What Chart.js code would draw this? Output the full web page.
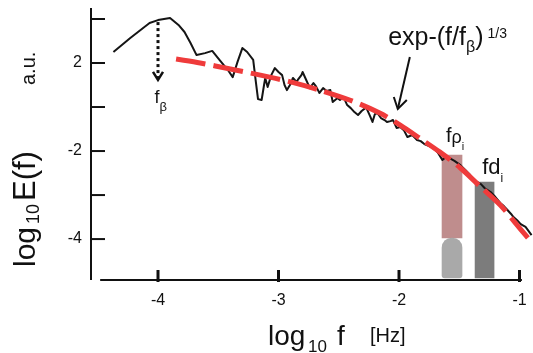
<!DOCTYPE html>
<html>
<head>
<meta charset="utf-8">
<script src="https://cdn.jsdelivr.net/npm/chart.js@4"></script>
<style>
  body { margin: 0; background: #fff; }
  canvas { display: block; }
</style>
</head>
<body>
<canvas id="spectrum" width="533" height="353"></canvas>
<script>
// measured power spectrum (log10 f, log10 E)
const specLogF = [-4.37, -4.23, -4.07, -4.00, -3.90, -3.83, -3.78, -3.73, -3.68, -3.61,
  -3.55, -3.49, -3.42, -3.38, -3.34, -3.30, -3.26, -3.21, -3.19, -3.17,
  -3.14, -3.12, -3.11, -3.09, -3.06, -3.03, -3.00, -2.97, -2.95, -2.93,
  -2.90, -2.88, -2.85, -2.84, -2.81, -2.80, -2.77, -2.74, -2.71, -2.69,
  -2.66, -2.63, -2.60, -2.57, -2.55, -2.51, -2.49, -2.46, -2.43, -2.40,
  -2.37, -2.34, -2.31, -2.28, -2.27, -2.24, -2.22, -2.20, -2.18, -2.15,
  -2.12, -2.10, -2.07, -2.05, -2.02, -1.99, -1.96, -1.93, -1.89, -1.85,
  -1.82, -1.79, -1.77, -1.73, -1.70, -1.68, -1.64, -1.62, -1.58, -1.54,
  -1.49, -1.45, -1.41, -1.38, -1.35, -1.32, -1.29, -1.24, -1.20, -1.16,
  -1.13, -1.10, -1.07, -1.05, -1.02, -0.99, -0.95, -0.93, -0.90];
const specLogE = [2.50, 3.14, 3.82, 3.95, 4.05, 3.73, 3.41, 2.91, 2.36, 2.45,
  2.55, 2.14, 1.68, 1.36, 2.05, 2.68, 2.50, 2.14, 1.23, 0.36,
  0.32, 1.00, 1.32, 0.91, 1.45, 1.77, 1.59, 1.45, 1.00, 0.77,
  1.05, 1.32, 1.14, 1.23, 1.45, 1.59, 1.23, 0.86, 1.09, 0.95,
  0.64, 0.86, 0.73, 0.77, 0.23, 0.41, 0.32, 0.45, 0.09, -0.05,
  -0.23, -0.36, -0.18, -0.05, -0.05, -0.41, -0.68, -0.32, -0.27, -0.50,
  -0.59, -0.68, -0.64, -0.59, -0.95, -0.91, -1.05, -1.36, -1.27, -1.50,
  -1.55, -1.68, -1.73, -1.82, -1.95, -2.05, -2.41, -2.32, -2.32, -2.45,
  -2.64, -2.86, -3.09, -3.36, -3.41, -3.50, -3.68, -3.86, -4.09, -4.36,
  -4.50, -4.68, -4.86, -5.00, -5.14, -5.32, -5.45, -5.59, -5.82];

// stretched-exponential fit exp-(f/f_beta)^(1/3)
const fitLogF = [-3.85, -3.65, -3.40, -3.15, -2.90, -2.66, -2.41, -2.16, -1.99, -1.83,
  -1.66, -1.49, -1.33, -1.16, -1.04, -0.93];
const fitLogE = [2.18, 2.00, 1.73, 1.45, 1.14, 0.77, 0.32, -0.27, -0.82, -1.41,
  -2.05, -2.77, -3.59, -4.45, -5.23, -5.95];

// ion scale bands: f_rho_i and f_d_i
const rhoBandF = -1.56;
const rhoBandTop = [-2.18, -5.95];
const rhoBandBase = [-5.95, -7.77];
const dBandF = -1.29;
const dBand = [-3.41, -7.77];

const xTicks = [-4, -3, -2, -1];
const yTickValues = [4, 2, 0, -2, -4, -6];
const yTickLabels = ['', '2', '', '-2', '', '-4'];

const FONT = '"Liberation Sans", Arial, Helvetica, sans-serif';

function toPoints(xs, ys) {
  return xs.map((v, i) => ({ x: v, y: ys[i] }));
}

// draw a sequence of text pieces, each with its own size and baseline shift
function drawRuns(ctx, x0, y0, runs) {
  let x = x0;
  runs.forEach(r => {
    ctx.font = r.size + 'px ' + FONT;
    const px = r.at !== undefined ? x0 + r.at : x + (r.gap || 0);
    ctx.fillText(r.t, px, y0 + (r.dy || 0));
    x = px + ctx.measureText(r.t).width;
  });
}

function chevron(ctx, tx, ty, ax, ay, bx, by) {
  ctx.beginPath();
  ctx.moveTo(ax, ay);
  ctx.lineTo(tx, ty);
  ctx.lineTo(bx, by);
  ctx.stroke();
}

const axesAndLabels = {
  id: 'axesAndLabels',
  afterDraw(chart) {
    const { ctx, scales: { x, y }, chartArea } = chart;
    ctx.save();
    ctx.strokeStyle = '#111';
    ctx.fillStyle = '#111';
    ctx.setLineDash([]);

    // axis lines
    ctx.lineWidth = 2;
    ctx.beginPath();
    ctx.moveTo(chartArea.left, chartArea.top);
    ctx.lineTo(chartArea.left, chartArea.bottom);
    ctx.stroke();
    const yAxisPx = chartArea.bottom;
    ctx.beginPath();
    ctx.moveTo(x.getPixelForValue(-4.48), yAxisPx);
    ctx.lineTo(x.getPixelForValue(-0.98), yAxisPx);
    ctx.stroke();

    // x ticks (pointing inward) and labels
    ctx.font = '16px ' + FONT;
    ctx.textAlign = 'center';
    ctx.textBaseline = 'alphabetic';
    xTicks.forEach(v => {
      const px = x.getPixelForValue(v);
      ctx.lineWidth = 3;
      ctx.beginPath();
      ctx.moveTo(px, yAxisPx - 10);
      ctx.lineTo(px, yAxisPx + 2);
      ctx.stroke();
      ctx.fillText(String(v), px, yAxisPx + 25);
    });

    // y ticks and labels
    ctx.textAlign = 'right';
    ctx.textBaseline = 'middle';
    yTickValues.forEach((v, i) => {
      const py = y.getPixelForValue(v);
      ctx.lineWidth = 2;
      ctx.beginPath();
      ctx.moveTo(chartArea.left, py);
      ctx.lineTo(chartArea.left + 14, py);
      ctx.stroke();
      if (yTickLabels[i]) ctx.fillText(yTickLabels[i], chartArea.left - 9, py);
    });

    ctx.textAlign = 'left';
    ctx.textBaseline = 'alphabetic';

    // x axis title
    drawRuns(ctx, 268, 345, [
      { t: 'log', size: 28 },
      { t: '10', size: 17, dy: 7, at: 40 },
      { t: 'f', size: 28, at: 69 },
      { t: '[Hz]', size: 20, dy: -3, at: 102 }
    ]);

    // y axis title, rotated
    ctx.save();
    ctx.translate(35, 267);
    ctx.rotate(-Math.PI / 2);
    drawRuns(ctx, 0, 0, [
      { t: 'log', size: 30 },
      { t: '10', size: 18, dy: 4, at: 43 },
      { t: 'E(f)', size: 31, at: 66 },
      { t: 'a.u.', size: 20, at: 182 }
    ]);
    ctx.restore();

    // f_beta marker: dotted arrow down from the spectral peak
    const fbx = x.getPixelForValue(-4);
    const fbTop = y.getPixelForValue(3.86);
    const fbTip = y.getPixelForValue(1.23);
    ctx.lineWidth = 3;
    ctx.setLineDash([3, 3]);
    ctx.beginPath();
    ctx.moveTo(fbx, fbTop);
    ctx.lineTo(fbx, fbTip - 2);
    ctx.stroke();
    ctx.setLineDash([]);
    ctx.lineWidth = 2.5;
    chevron(ctx, fbx, fbTip, fbx - 5, fbTip - 8, fbx + 5, fbTip - 8);
    drawRuns(ctx, x.getPixelForValue(-4.03), y.getPixelForValue(0.18), [
      { t: 'f', size: 18 },
      { t: 'β', size: 13, dy: 8 }
    ]);

    // fit label with arrow
    const ex = x.getPixelForValue(-2.09);
    const ey = y.getPixelForValue(2.82);
    drawRuns(ctx, ex, ey, [
      { t: 'exp-(f/f', size: 25 },
      { t: 'β', size: 16, dy: 7 },
      { t: ')', size: 25 },
      { t: '1/3', size: 14, dy: -7, gap: 4 }
    ]);
    const ax0 = x.getPixelForValue(-1.91), ay0 = y.getPixelForValue(2.27);
    const ax1 = x.getPixelForValue(-2.01), ay1 = y.getPixelForValue(-0.09);
    ctx.lineWidth = 2;
    ctx.beginPath();
    ctx.moveTo(ax0, ay0);
    ctx.lineTo(ax1, ay1);
    ctx.stroke();
    chevron(ctx, ax1, ay1, ax1 - 4, ay1 - 12, ax1 + 9, ay1 - 9);

    // ion scale labels
    drawRuns(ctx, x.getPixelForValue(-1.61), y.getPixelForValue(-1.59), [
      { t: 'f', size: 20 },
      { t: 'ρ', size: 18, dy: 1 },
      { t: 'i', size: 11, dy: 8 }
    ]);
    drawRuns(ctx, x.getPixelForValue(-1.31), y.getPixelForValue(-3.05), [
      { t: 'fd', size: 22 },
      { t: 'i', size: 12, dy: 8 }
    ]);

    ctx.restore();
  }
};

new Chart(document.getElementById('spectrum'), {
  type: 'line',
  data: {
    datasets: [
      {
        type: 'bar',
        data: [{ x: rhoBandF, y: rhoBandTop }],
        backgroundColor: '#bf8d8d',
        barThickness: 20,
        grouped: false,
        order: 4
      },
      {
        type: 'bar',
        data: [{ x: rhoBandF, y: rhoBandBase }],
        backgroundColor: '#a9a9a9',
        barThickness: 20,
        borderRadius: { topLeft: 10, topRight: 10, bottomLeft: 3, bottomRight: 3 },
        borderSkipped: false,
        grouped: false,
        order: 3
      },
      {
        type: 'bar',
        data: [{ x: dBandF, y: dBand }],
        backgroundColor: '#7c7c7c',
        barThickness: 19,
        grouped: false,
        order: 3
      },
      {
        data: toPoints(specLogF, specLogE),
        borderColor: '#151515',
        borderWidth: 2,
        borderJoinStyle: 'round',
        pointRadius: 0,
        tension: 0,
        order: 2
      },
      {
        data: toPoints(fitLogF, fitLogE),
        borderColor: '#ef3b3b',
        borderWidth: 5,
        borderDash: [30, 8],
        pointRadius: 0,
        tension: 0.3,
        order: 1
      }
    ]
  },
  options: {
    responsive: false,
    animation: false,
    layout: { padding: { left: 91, top: 8, right: 0, bottom: 73 } },
    plugins: {
      legend: { display: false },
      tooltip: { enabled: false }
    },
    scales: {
      x: { type: 'linear', min: -4.556, max: -0.888, offset: false, display: false },
      y: { type: 'linear', min: -7.86, max: 4.5, display: false }
    }
  },
  plugins: [axesAndLabels]
});
</script>
</body>
</html>
